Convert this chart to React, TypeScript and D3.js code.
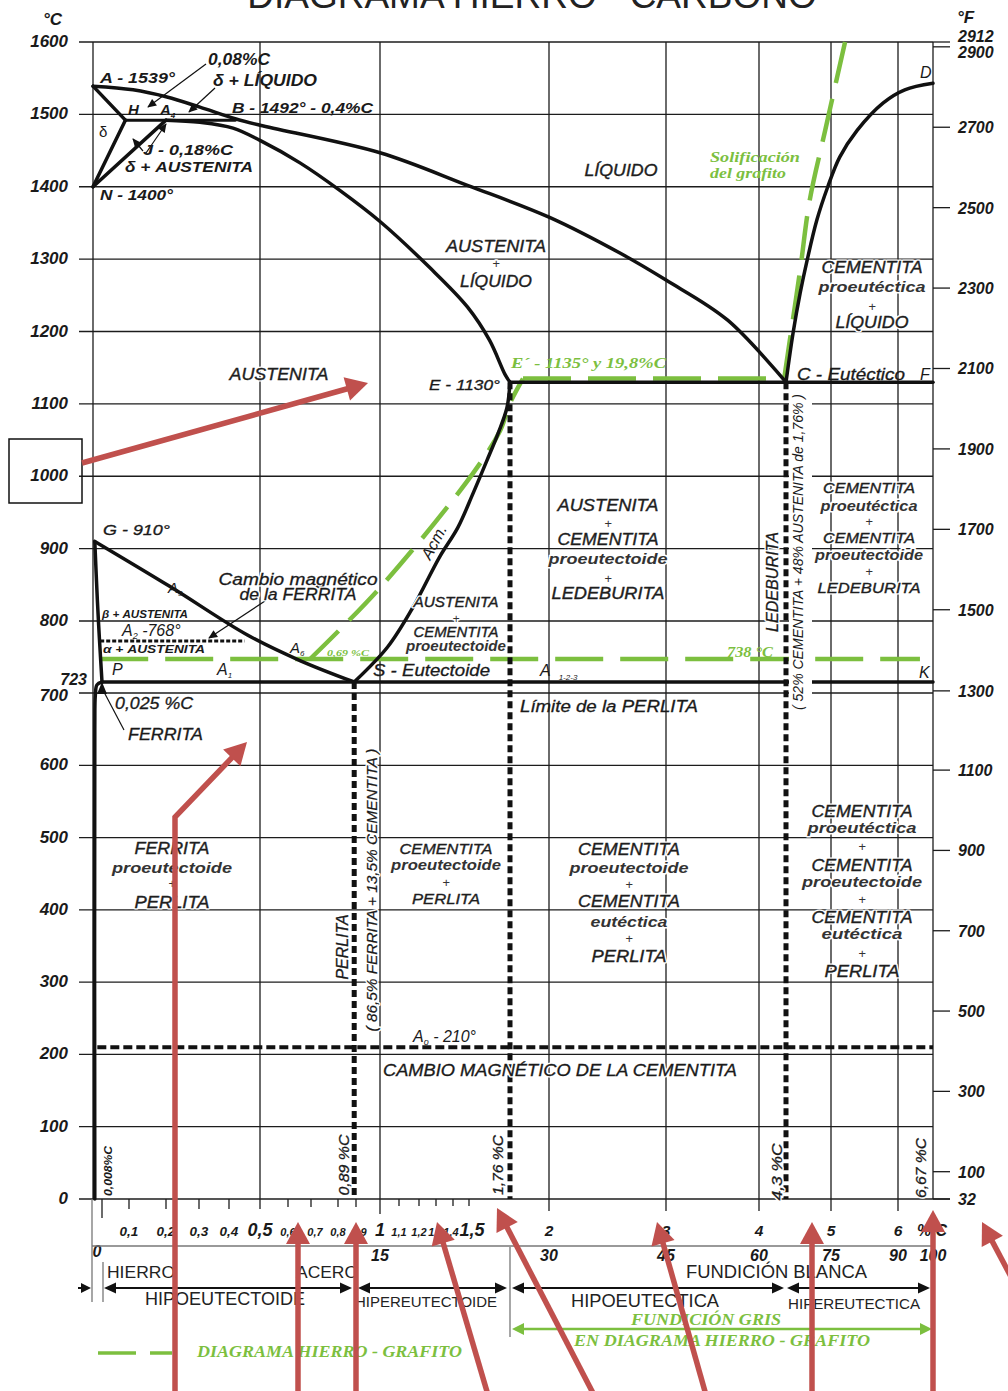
import React from "react";
import * as d3 from "d3";

type Pt = [number, number]; // [% carbon, °C]

// ---------- scale breakpoints (distorted carbon axis of the original drawing) ----------
const carbonBreaks = [0, 0.025, 0.1, 0.2, 0.3, 0.4, 0.5, 0.6, 0.7, 0.8, 0.9, 1, 1.1, 1.2, 1.3, 1.4, 1.5, 1.76, 2, 3, 4, 4.3, 5, 6, 6.67];
const tempBreaks = [0, 700, 723, 738, 768, 800, 1600];

// ---------- ticks ----------
const celsiusTicks = [0, 100, 200, 300, 400, 500, 600, 700, 800, 900, 1000, 1100, 1200, 1300, 1400, 1500, 1600];
const fahrenheitTicks = [2912, 2900, 2700, 2500, 2300, 2100, 1900, 1700, 1500, 1300, 1100, 900, 700, 500, 300, 100, 32];
const carbonTicks = [0.025, 0.1, 0.2, 0.3, 0.4, 0.5, 0.6, 0.7, 0.8, 0.9, 1, 1.1, 1.2, 1.3, 1.4, 1.5, 2, 3, 4, 5, 6];
const carbonTickLabels: [number, string][] = [
  [0.1, "0,1"], [0.2, "0,2"], [0.3, "0,3"], [0.4, "0,4"], [0.5, "0,5"], [0.6, "0,6"], [0.7, "0,7"],
  [0.8, "0,8"], [0.9, "0,9"], [1, "1"], [1.1, "1,1"], [1.2, "1,2"], [1.3, "1,3"], [1.4, "1,4"], [1.5, "1,5"],
  [2, "2"], [3, "3"], [4, "4"], [5, "5"], [6, "6"],
];
const cementiteLabels: [number, string][] = [[0, "0"], [1, "15"], [2, "30"], [3, "45"], [4, "60"], [5, "75"], [6, "90"], [6.67, "100"]];
const gridCarbon = [0, 0.5, 1, 2, 3, 4, 5, 6, 6.67];

// ---------- phase boundaries ----------
const liquidusABC: Pt[] = [[0, 1539], [0.111, 1534], [0.203, 1524], [0.303, 1510], [0.42, 1494], [0.5, 1485], [1.0, 1447], [1.49, 1402], [2.0, 1358], [2.61, 1308], [3.0, 1271], [3.66, 1216], [4.3, 1130]];
const liquidusCD: Pt[] = [[4.3, 1130], [4.41, 1198], [4.52, 1253], [4.63, 1299], [4.78, 1354], [4.95, 1400], [5.13, 1441], [5.39, 1478], [5.78, 1516], [6.13, 1534], [6.67, 1543]];
const solidusAH: Pt[] = [[0, 1539], [0.09, 1492]];
const lineNH: Pt[] = [[0, 1400], [0.09, 1492]];
const lineNJ: Pt[] = [[0, 1400], [0.2, 1492]];
const peritecticHB: Pt[] = [[0.09, 1492], [0.42, 1492]];
const solidusJE: Pt[] = [[0.2, 1492], [0.303, 1489], [0.413, 1481], [0.5, 1464], [0.652, 1433], [0.81, 1395], [1.0, 1352], [1.26, 1289], [1.49, 1234], [1.63, 1188], [1.73, 1140], [1.76, 1130]];
const acmES: Pt[] = [[1.76, 1130], [1.741, 1095], [1.684, 1059], [1.614, 1022], [1.525, 976], [1.43, 929], [1.32, 888], [1.17, 819], [1.04, 758], [0.89, 723]];
const a3GS: Pt[] = [[0.005, 910], [0.211, 848], [0.458, 778], [0.652, 737], [0.89, 723]];
const lineGP: Pt[] = [[0.005, 910], [0.012, 830], [0.018, 770], [0.025, 723]];
const solvusPQ: Pt[] = [[0.025, 723], [0.011, 717], [0.0065, 697], [0.005, 650], [0.005, 0]];
const eutecticEF: Pt[] = [[1.76, 1130], [6.67, 1130]];
const eutectoidPK: Pt[] = [[0.025, 723], [6.67, 723]];
const criticalVerticals: Pt[][] = [[[0.89, 723], [0.89, 0]], [[1.76, 1130], [1.76, 0]], [[4.3, 1130], [4.3, 0]]];
const curieA0: Pt[] = [[0.012, 210], [6.67, 210]];
const curieA2: Pt[] = [[0.02, 768], [0.45, 768]];

// ---------- iron-graphite diagram (green) ----------
const graphiteA738: Pt[] = [[0.02, 738], [6.42, 738]];
const graphiteAcm: Pt[] = [[0.696, 738], [1.0, 846], [1.525, 1004], [1.697, 1063], [1.76, 1101], [1.84, 1135]];
const graphiteEC: Pt[] = [[1.84, 1135], [4.28, 1135]];
const graphiteCD: Pt[] = [[4.28, 1135], [4.36, 1188], [4.52, 1285], [4.67, 1382], [4.91, 1478], [5.21, 1600]];

const SANS = "'Liberation Sans', Arial, Helvetica, sans-serif";
const SERIF = "'Liberation Serif', 'Times New Roman', serif";
const GREEN = "#7cbf3f";
const RED = "#c0504d";
const INK = "#1a1a1a";

type LP = { x: number; y: number; t: string; s?: number; w?: any; it?: boolean; a?: any; c?: string; len?: number; f?: string; rot?: number; halo?: boolean; sw?: number };
function Lbl(p: LP) {
  const { x, y, t, s = 15, w = "normal", it = true, a = "start", c = INK, len, f = SANS, rot, halo, sw } = p;
  const common = {
    x, y, fontSize: s, fontWeight: w, fontStyle: it ? "italic" : "normal", textAnchor: a, fontFamily: f,
    textLength: len, lengthAdjust: len ? "spacingAndGlyphs" : undefined,
    dominantBaseline: rot ? "central" : undefined,
    transform: rot ? `rotate(${rot} ${x} ${y})` : undefined,
  } as any;
  return (
    <g>
      {halo && <text {...common} fill="#fff" stroke="#fff" strokeWidth={3} strokeLinejoin="round">{t}</text>}
      <text {...common} fill={c} stroke={sw ? c : undefined} strokeWidth={sw}>{t}</text>
    </g>
  );
}

type Row = [string, number, number?];
function Stack({ x, rows, big = 16, small = 15, plus = 13 }: { x: number; rows: Row[]; big?: number; small?: number; plus?: number }) {
  return (
    <g>
      {rows.map(([t, yy, len], i) => {
        const isPlus = t === "+";
        const lower = t === t.toLowerCase();
        return (
          <Lbl key={i} x={x} y={yy} t={t} a="middle" halo
            s={isPlus ? plus : lower ? small : big}
            w={lower && !isPlus ? "bold" : "normal"}
            sw={lower ? undefined : 0.35}
            c={lower ? "#333" : "#1e1e1e"} len={isPlus ? undefined : len} />
        );
      })}
    </g>
  );
}

function head(tip: [number, number], from: [number, number], len: number, hw: number) {
  const dx = tip[0] - from[0], dy = tip[1] - from[1];
  const d = Math.hypot(dx, dy) || 1;
  const ux = dx / d, uy = dy / d;
  const bx = tip[0] - ux * len, by = tip[1] - uy * len;
  return `${tip[0]},${tip[1]} ${bx - uy * hw},${by + ux * hw} ${bx + uy * hw},${by - ux * hw}`;
}

const redArrows: [number, number][][] = [
  [[82, 463], [368, 383]],
  [[175, 1395], [175, 817], [247, 742]],
  [[298, 1395], [298, 1222]],
  [[356, 1395], [356, 1222]],
  [[488, 1395], [437, 1222]],
  [[594, 1395], [497, 1208]],
  [[706, 1395], [657, 1222]],
  [[812, 1395], [812, 1222]],
  [[933, 1395], [933, 1210]],
  [[1035, 1322], [982, 1222]],
];

export default function App() {
  const x = d3.scaleLinear().domain(carbonBreaks).range([93, 102, 129, 166, 199, 229, 260, 288, 311, 338, 356, 380, 399, 419, 436, 453, 469, 510, 549, 666, 759, 786, 831, 898, 933]);
  const y = d3.scaleLinear().domain(tempBreaks).range([1199, 693, 682, 659, 641, 621, 42]);
  const straight = d3.line<Pt>().x((d) => x(d[0])).y((d) => y(d[1]));
  const smooth = d3.line<Pt>().x((d) => x(d[0])).y((d) => y(d[1])).curve(d3.curveCatmullRom.alpha(0.5));
  const fy = (f: number) => y(((f - 32) * 5) / 9);
  const xR = x(6.67);

  const phase = { fill: "none", stroke: "#111", strokeWidth: 3.5, strokeLinecap: "round" as const, strokeLinejoin: "round" as const };
  const green = { fill: "none", stroke: GREEN, strokeWidth: 4.5, strokeDasharray: "48,17" };

  const tickLen = (v: number) => (v === 0.025 ? 19 : v === 1 ? 15 : v < 0.6 ? 10 : v < 1 ? 8 : v < 2 ? 7 : 12);
  const tickSize = (v: number) => (v === 0.5 || v === 1 || v === 1.5 ? 18 : v < 0.5 ? 13.5 : v < 2 ? 11 : 15.5);
  const tickShift = (v: number) => (v === 0.7 ? 4 : v === 0.9 ? 3 : v === 1.4 ? -2 : v === 1.5 ? 3 : 0);

  return (
    <svg width={1008} height={1391} viewBox="0 0 1008 1391" style={{ position: "absolute", left: 0, top: 0, background: "#fff" }} fontFamily={SANS}>
      <defs>
        <marker id="ah" viewBox="0 0 10 10" refX="9" refY="5" markerWidth="10" markerHeight="9" orient="auto" markerUnits="userSpaceOnUse">
          <path d="M0,0.5 L10,5 L0,9.5 z" fill="#111" />
        </marker>
      </defs>
      <rect x={0} y={0} width={1008} height={1391} fill="#fff" />

      {/* title (cut by the top edge, as in the original) */}
      <text x={532} y={8} fontSize={37} textAnchor="middle" fill="#222" fontFamily={SANS}>DIAGRAMA HIERRO - CARBONO</text>
      <Lbl x={43} y={25} t="°C" s={17} w="bold" />
      <Lbl x={957} y={23} t="°F" s={17} w="bold" />

      {/* grid */}
      <g stroke="#1c1c1c" strokeWidth={1.3}>
        {celsiusTicks.map((t) => (
          <line key={"h" + t} x1={79} x2={t === 0 ? 950 : xR} y1={y(t)} y2={y(t)} />
        ))}
        {gridCarbon.map((c) => (
          <line key={"v" + c} x1={x(c)} x2={x(c)} y1={y(0)} y2={y(1600)} />
        ))}
        {fahrenheitTicks.map((f) => (
          <line key={"f" + f} x1={xR} x2={950} y1={fy(f)} y2={fy(f)} />
        ))}
        {carbonTicks.map((c) => (
          <line key={"t" + c} x1={x(c)} x2={x(c)} y1={y(0)} y2={y(0) + tickLen(c)} />
        ))}
      </g>

      {/* axis labels */}
      {celsiusTicks.map((t) => (
        <Lbl key={"cl" + t} x={68} y={y(t) + (t === 700 ? 8 : 5)} t={String(t)} s={17} w="bold" a="end" />
      ))}
      <Lbl x={87} y={685} t="723" s={16} w="bold" a="end" />
      {fahrenheitTicks.map((f) => (
        <Lbl key={"fl" + f} x={958} y={f === 2912 ? 42 : f === 2900 ? 58 : fy(f) + 6} t={String(f)} s={16} w="bold" />
      ))}
      {carbonTickLabels.map(([v, t]) => (
        <Lbl key={"xl" + v} x={x(v) + tickShift(v)} y={1236} t={t} s={tickSize(v)} w="bold" a="middle" />
      ))}
      <Lbl x={932} y={1236} t="% C" s={16} w="bold" a="middle" />
      {cementiteLabels.map(([v, t]) => (
        <Lbl key={"fe" + v} x={v === 0 ? x(v) + 4 : x(v)} y={v === 0 ? 1257 : 1261} t={t} s={16} w="bold" a="middle" />
      ))}

      {/* box around 1000 */}
      <rect x={9} y={439} width={73} height={64} fill="none" stroke="#111" strokeWidth={1.5} />

      {/* green iron-graphite diagram */}
      <path d={straight(graphiteA738) || ""} {...green} />
      <path d={smooth(graphiteAcm) || ""} {...green} strokeDasharray="40,15" />
      <path d={straight(graphiteEC) || ""} {...green} />
      <path d={smooth(graphiteCD) || ""} {...green} strokeDasharray="44,16" />

      {/* phase boundaries */}
      <path d={smooth(liquidusABC) || ""} {...phase} />
      <path d={smooth(liquidusCD) || ""} {...phase} />
      <path d={straight(solidusAH) || ""} {...phase} />
      <path d={straight(lineNH) || ""} {...phase} />
      <path d={straight(lineNJ) || ""} {...phase} />
      <path d={straight(peritecticHB) || ""} {...phase} strokeWidth={3} />
      <path d={smooth(solidusJE) || ""} {...phase} />
      <path d={smooth(acmES) || ""} {...phase} />
      <path d={smooth(a3GS) || ""} {...phase} />
      <path d={smooth(lineGP) || ""} {...phase} />
      <path d={smooth(solvusPQ) || ""} {...phase} />
      <path d={straight(eutecticEF) || ""} {...phase} />
      <path d={straight(eutectoidPK) || ""} {...phase} />
      {criticalVerticals.map((v, i) => (
        <path key={"cv" + i} d={straight(v) || ""} fill="none" stroke="#111" strokeWidth={5} strokeDasharray="7,4" />
      ))}
      <path d={straight(curieA0) || ""} fill="none" stroke="#111" strokeWidth={4} strokeDasharray="9,4" />
      <path d={straight(curieA2) || ""} fill="none" stroke="#111" strokeWidth={3} strokeDasharray="4,2" />

      {/* white band behind the rotated ledeburite note */}
      <rect x={789} y={393} width={23} height={318} fill="#fff" />

      {/* leaders */}
      <g stroke="#111" strokeWidth={1.2} fill="none">
        <line x1={206} y1={64} x2={148} y2={107} markerEnd="url(#ah)" />
        <line x1={215} y1={88} x2={189} y2={112} markerEnd="url(#ah)" />
        <line x1={146} y1={153} x2={166} y2={124} markerEnd="url(#ah)" />
        <line x1={143} y1={151} x2={133} y2={139} markerEnd="url(#ah)" />
        <line x1={265} y1={601} x2={209} y2={638} markerEnd="url(#ah)" />
        <line x1={124} y1={730} x2={104} y2={692} />
      </g>
      <polygon points={head([102, 682], [102, 698], 12, 5)} fill="#111" />

      {/* point labels, top-left */}
      <Lbl x={100} y={83} t="A - 1539°" s={15} w="bold" len={75} />
      <Lbl x={208} y={65} t="0,08%C" s={16} w="bold" len={62} />
      <Lbl x={213} y={86} t="δ + LÍQUIDO" s={16} w="bold" len={104} />
      <Lbl x={128} y={115} t="H" s={15} w="bold" />
      <text x={160} y={115} fontSize={15} fontWeight="bold" fontStyle="italic" fill={INK}>A<tspan fontSize={8} dy={3}>4</tspan></text>
      <Lbl x={232} y={113} t="B - 1492° - 0,4%C" s={15} w="bold" len={141} />
      <Lbl x={99} y={137} t="δ" s={15} it={false} />
      <Lbl x={143} y={155} t="J - 0,18%C" s={15} w="bold" len={90} />
      <Lbl x={125} y={172} t="δ + AUSTENITA" s={15} w="bold" len={128} />
      <Lbl x={100} y={200} t="N - 1400°" s={15} w="bold" len={73} />

      {/* liquid / upper regions */}
      <Stack x={621} rows={[["LÍQUIDO", 176, 73]]} />
      <Stack x={496} rows={[["AUSTENITA", 252, 100], ["+", 268], ["LÍQUIDO", 287, 72]]} />
      <Stack x={279} rows={[["AUSTENITA", 380, 99]]} />
      <Stack x={872} rows={[["CEMENTITA", 273, 101], ["proeutéctica", 292, 107], ["+", 311], ["LÍQUIDO", 328, 73]]} />
      <Lbl x={710} y={162} t="Solificación" s={15} w="bold" f={SERIF} c={GREEN} len={90} />
      <Lbl x={710} y={178} t="del grafito" s={15} w="bold" f={SERIF} c={GREEN} len={76} />
      <Lbl x={429} y={390} t="E - 1130°" s={15} len={71} sw={0.3} />
      <Lbl x={511} y={368} t="E´ - 1135° y 19,8%C" s={15} w="bold" f={SERIF} c={GREEN} len={155} />
      <Lbl x={797} y={380} t="C - Eutéctico" s={16} len={108} sw={0.3} />
      <Lbl x={920} y={380} t="F" s={16} />
      <Lbl x={920} y={78} t="D" s={16} />

      {/* austenite / cementite regions */}
      <Stack x={608} rows={[["AUSTENITA", 511, 101], ["+", 528], ["CEMENTITA", 545, 101], ["proeutectoide", 564, 119], ["+", 583], ["LEDEBURITA", 599, 113]]} />
      <Stack x={869} rows={[["CEMENTITA", 493, 92], ["proeutéctica", 511, 97], ["+", 526], ["CEMENTITA", 543, 92], ["proeutectoide", 560, 108], ["+", 576], ["LEDEBURITA", 593, 103]]} small={14} big={15} />
      <Stack x={456} rows={[["AUSTENITA", 607, 85], ["+", 623], ["CEMENTITA", 637, 85], ["proeutectoide", 651, 100]]} big={14} small={14} plus={12} />
      <Lbl x={772} y={582} t="LEDEBURITA" s={16} rot={-90} a="middle" len={100} halo sw={0.3} />
      <Lbl x={798} y={552} t="( 52% CEMENTITA + 48% AUSTENITA de 1,76% )" s={14} rot={-90} a="middle" len={316} />
      <Lbl x={434} y={542} t="Acm." s={16} rot={-62} a="middle" />

      {/* ferrite region */}
      <Lbl x={103} y={535} t="G - 910°" s={15} len={67} sw={0.3} />
      <text x={168} y={593} fontSize={15} fontStyle="italic" fill={INK}>A<tspan fontSize={8} dy={3}>3</tspan></text>
      <Lbl x={298} y={585} t="Cambio magnético" s={16} a="middle" len={159} halo sw={0.3} />
      <Lbl x={298} y={600} t="de la FERRITA" s={16} a="middle" len={117} halo sw={0.3} />
      <Lbl x={102} y={618} t="β + AUSTENITA" s={10} w="bold" len={86} />
      <text x={122} y={636} fontSize={16} fontStyle="italic" fill={INK}>A<tspan fontSize={9} dy={3}>2</tspan><tspan dy={-3}> -768°</tspan></text>
      <Lbl x={103} y={653} t="α + AUSTENITA" s={11} w="bold" len={102} />
      <text x={290} y={653} fontSize={15} fontStyle="italic" fill={INK}>A<tspan fontSize={8} dy={3}>6</tspan></text>
      <Lbl x={327} y={656} t="0,69 %C" s={9} f={SERIF} w="bold" c={GREEN} len={42} />
      <Lbl x={112} y={675} t="P" s={16} />
      <text x={217} y={675} fontSize={16} fontStyle="italic" fill={INK}>A<tspan fontSize={8} dy={3}>1</tspan></text>
      <Lbl x={373} y={676} t="S - Eutectoide" s={17} len={117} sw={0.3} />
      <text x={540} y={676} fontSize={16} fontStyle="italic" fill={INK}>A<tspan fontSize={8} dx={8} dy={4}>1-2-3</tspan></text>
      <Lbl x={727} y={657} t="738 °C" s={15} f={SERIF} w="bold" c={GREEN} len={46} />
      <Lbl x={919} y={678} t="K" s={16} />
      <Lbl x={115} y={709} t="0,025 %C" s={16} len={78} sw={0.3} />
      <Lbl x={128} y={740} t="FERRITA" s={16} len={75} sw={0.3} />
      <Lbl x={609} y={712} t="Límite de la PERLITA" s={16} a="middle" len={178} sw={0.3} />

      {/* room temperature structures */}
      <Stack x={172} rows={[["FERRITA", 854, 75], ["proeutectoide", 873, 120], ["+", 888], ["PERLITA", 908, 75]]} />
      <Stack x={446} rows={[["CEMENTITA", 854, 93], ["proeutectoide", 870, 110], ["+", 887], ["PERLITA", 904, 68]]} small={14} big={15} />
      <Stack x={629} rows={[["CEMENTITA", 855, 102], ["proeutectoide", 873, 119], ["+", 889], ["CEMENTITA", 907, 102], ["eutéctica", 927, 77], ["+", 943], ["PERLITA", 962, 75]]} />
      <Stack x={862} rows={[["CEMENTITA", 817, 101], ["proeutéctica", 833, 109], ["+", 851], ["CEMENTITA", 871, 101], ["proeutectoide", 887, 120], ["+", 904], ["CEMENTITA", 923, 101], ["eutéctica", 939, 81], ["+", 958], ["PERLITA", 977, 75]]} />
      <Lbl x={342} y={947} t="PERLITA" s={16} rot={-90} a="middle" len={65} halo sw={0.3} />
      <Lbl x={371} y={890} t="( 86,5% FERRITA + 13,5% CEMENTITA )" s={15} rot={-90} a="middle" len={283} halo sw={0.2} />
      <text x={413} y={1042} fontSize={16} fontStyle="italic" fill={INK}>A<tspan fontSize={9} dy={3}>o</tspan><tspan dy={-3}> - 210°</tspan></text>
      <Lbl x={560} y={1076} t="CAMBIO MAGNÉTICO DE LA CEMENTITA" s={16} a="middle" len={354} halo sw={0.3} />
      <Lbl x={108} y={1171} t="0,008%C" s={10} w="bold" rot={-90} a="middle" len={50} />
      <Lbl x={343} y={1165} t="0,89 %C" s={15} rot={-90} a="middle" len={61} halo sw={0.3} />
      <Lbl x={497} y={1165} t="1,76 %C" s={15} rot={-90} a="middle" len={60} halo sw={0.3} />
      <Lbl x={776} y={1172} t="4,3 %C" s={15} rot={-90} a="middle" len={57} halo sw={0.3} />
      <Lbl x={920} y={1168} t="6,67 %C" s={15} rot={-90} a="middle" len={60} halo sw={0.3} />

      {/* lower classification band */}
      <g stroke="#777" strokeWidth={1.3}>
        <line x1={92} x2={xR} y1={1246} y2={1246} />
        <line x1={92} x2={92} y1={1199} y2={1302} />
        <line x1={103} x2={103} y1={1262} y2={1302} />
        <line x1={510} x2={510} y1={1247} y2={1337} />
      </g>
      {[[104, 352], [358, 507], [512, 784], [787, 930]].map(([a, b], i) => (
        <g key={"ba" + i}>
          <line x1={a + 8} x2={b - 8} y1={1288} y2={1288} stroke="#111" strokeWidth={2.2} />
          <polygon points={head([a, 1288], [b, 1288], 12, 5.5)} fill="#111" />
          <polygon points={head([b, 1288], [a, 1288], 12, 5.5)} fill="#111" />
        </g>
      ))}
      <line x1={78} x2={84} y1={1288} y2={1288} stroke="#111" strokeWidth={2} />
      <polygon points={head([91, 1288], [78, 1288], 10, 5)} fill="#111" />
      <Lbl x={107} y={1278} t="HIERRO" s={17} it={false} c="#222" len={68} />
      <Lbl x={296} y={1278} t="ACERO" s={17} it={false} c="#222" len={62} />
      <Lbl x={686} y={1278} t="FUNDICIÓN BLANCA" s={18} it={false} c="#222" len={181} />
      <Lbl x={145} y={1305} t="HIPOEUTECTOIDE" s={18} it={false} c="#222" len={160} />
      <Lbl x={355} y={1307} t="HIPEREUTECTOIDE" s={14} it={false} c="#222" len={142} />
      <Lbl x={571} y={1307} t="HIPOEUTECTICA" s={18} it={false} c="#222" len={148} />
      <Lbl x={788} y={1309} t="HIPEREUTECTICA" s={14} it={false} c="#222" len={132} />

      <line x1={520} x2={924} y1={1329} y2={1329} stroke={GREEN} strokeWidth={2.6} />
      <polygon points={head([512, 1329], [932, 1329], 12, 6)} fill={GREEN} />
      <polygon points={head([932, 1329], [512, 1329], 12, 6)} fill={GREEN} />
      <Lbl x={631} y={1325} t="FUNDICIÓN GRIS" s={17} w="bold" f={SERIF} c={GREEN} len={150} />
      <Lbl x={574} y={1346} t="EN DIAGRAMA HIERRO - GRAFITO" s={17} w="bold" f={SERIF} c={GREEN} len={296} />
      <line x1={98} x2={136} y1={1353} y2={1353} stroke={GREEN} strokeWidth={3.5} />
      <line x1={150} x2={172} y1={1353} y2={1353} stroke={GREEN} strokeWidth={3.5} />
      <Lbl x={197} y={1357} t="DIAGRAMA HIERRO - GRAFITO" s={17} w="bold" f={SERIF} c={GREEN} len={265} />

      {/* red annotation arrows */}
      {redArrows.map((pts, i) => {
        const tip = pts[pts.length - 1];
        const prev = pts[pts.length - 2];
        const d = Math.hypot(tip[0] - prev[0], tip[1] - prev[1]);
        const k = (d - 14) / d;
        const shaft = pts.slice(0, -1).concat([[prev[0] + (tip[0] - prev[0]) * k, prev[1] + (tip[1] - prev[1]) * k]]);
        return (
          <g key={"ra" + i}>
            <polyline points={shaft.map((p) => p.join(",")).join(" ")} fill="none" stroke={RED} strokeWidth={5.5} strokeLinejoin="miter" />
            <polygon points={head(tip, prev, 22, 12)} fill={RED} />
          </g>
        );
      })}
    </svg>
  );
}
